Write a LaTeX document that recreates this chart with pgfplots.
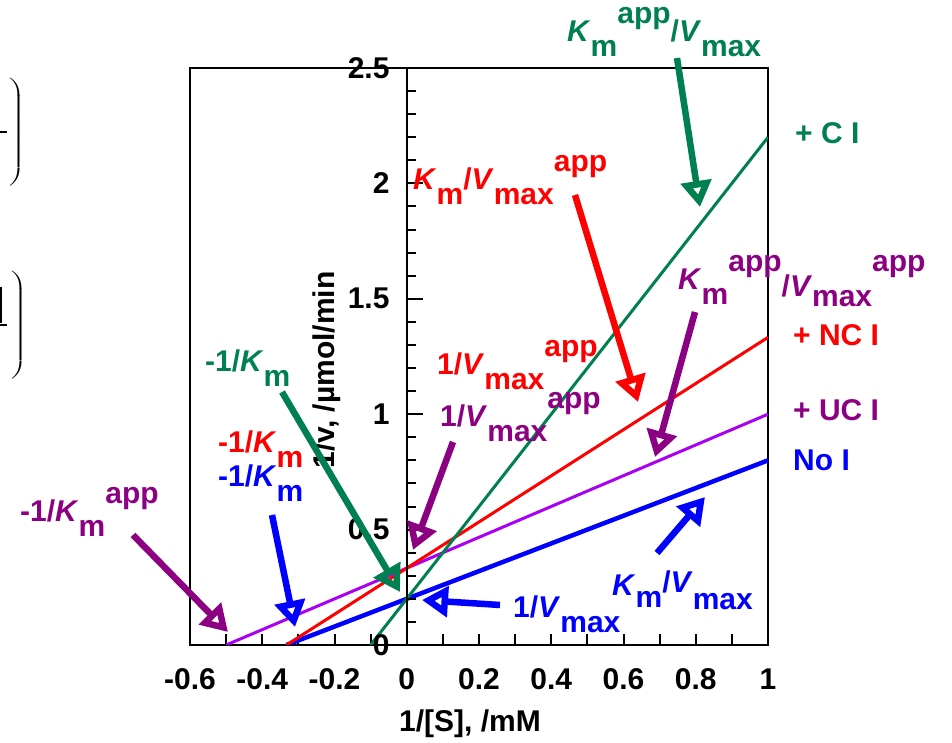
\documentclass[border=0pt]{standalone}
\usepackage{fontspec}
\setmainfont{Liberation Sans}
\usepackage{pgfplots}
\pgfplotsset{compat=1.18}
\usetikzlibrary{arrows.meta}

\definecolor{cgreen}{RGB}{0,128,80}
\definecolor{cpurple}{RGB}{140,0,130}
\definecolor{cviolet}{RGB}{170,0,240}
\definecolor{cblue}{RGB}{0,0,255}
\definecolor{cred}{RGB}{255,0,0}

\newcommand{\bigfont}{\fontsize{30}{36}\selectfont\bfseries}
\newcommand{\lo}[1]{\raisebox{-15pt}{#1}}
\newcommand{\hi}[1]{\raisebox{18pt}{#1}}
\newcommand{\K}{\textit{K}}
\newcommand{\V}{\textit{V}}

\tikzset{
  ann/.style={line width=6.5pt, -{Triangle[open,length=26pt,width=30pt]}},
  lab/.style={anchor=base west, inner sep=0pt, font=\bigfont},
}

\begin{document}
\begin{tikzpicture}
% main frame with the 1/[S] axis
\begin{axis}[
  at={(190pt,98pt)}, anchor=south west,
  scale only axis, width=578pt, height=577pt,
  xmin=-0.6, xmax=1, ymin=0, ymax=2.5,
  axis line style={line width=2pt},
  xtick={-0.6,-0.4,-0.2,0,0.2,0.4,0.6,0.8,1},
  xticklabels={-0.6,-0.4,-0.2,0,0.2,0.4,0.6,0.8,1},
  minor x tick num=1,
  xtick pos=bottom, ytick=\empty,
  tick align=inside, major tick length=11pt, minor tick length=11pt,
  tick style={line width=2pt, black},
  xticklabel style={font=\bigfont, yshift=-20pt},
]
% no inhibitor
\addplot[cblue, line width=4.5pt] coordinates {(-0.333,0) (0,0.2) (0.5,0.5) (1,0.8)};
% uncompetitive
\addplot[cviolet, line width=3pt] coordinates {(-0.5,0) (0,0.333) (0.5,0.667) (1,1.0)};
% noncompetitive
\addplot[cred, line width=3pt] coordinates {(-0.333,0) (0,0.333) (0.5,0.833) (1,1.333)};
% competitive
\addplot[cgreen, line width=3pt] coordinates {(-0.1,0) (0,0.2) (0.5,1.2) (1,2.2)};
\end{axis}

% vertical 1/v axis standing at 1/[S] = 0
\begin{axis}[
  at={(407pt,98pt)}, anchor=south west,
  scale only axis, width=361pt, height=577pt,
  xmin=0, xmax=1, ymin=0, ymax=2.5,
  hide x axis, axis y line*=left,
  axis line style={line width=2pt},
  ytick={0,0.5,1,1.5,2,2.5}, yticklabels={0,0.5,1,1.5,2,2.5},
  minor y tick num=4,
  tick align=inside, major tick length=16pt, minor tick length=9pt,
  tick style={line width=2pt, black},
  yticklabel style={font=\bigfont, xshift=-14pt},
]
\end{axis}

% axis titles
\node[font=\bigfont, rotate=90] at (327pt,373pt) {1/v, /µmol/min};
\node[font=\bigfont] at (470pt,19pt) {1/[S], /mM};

% series names
\node[lab, anchor=west, text=cgreen] at (795pt,610pt) {+ C I};
\node[lab, anchor=west, text=cred] at (793pt,408pt) {+ NC I};
\node[lab, anchor=west, text=cpurple] at (793pt,333pt) {+ UC I};
\node[lab, anchor=west, text=cblue] at (793pt,283pt) {No I};

% annotations
\node[lab, text=cgreen] at (567pt,701pt) {\K\lo{m}\hi{app}/\V\lo{max}};
\draw[ann, cgreen] (677pt,685pt) -- (700pt,536pt);

\node[lab, text=cred] at (413pt,553pt) {\K\lo{m}/\V\lo{max}\hi{app}};
\draw[ann, cred] (575pt,548pt) -- (638pt,341pt);

\node[lab, text=cpurple] at (678pt,453pt) {\K\lo{m}\hi{app}\raisebox{-7pt}{/\V}\raisebox{-17pt}{max}\hi{app}};
\draw[ann, cpurple] (695pt,431pt) -- (655pt,286pt);

\node[lab, text=cred] at (437pt,368pt) {1/\V\lo{max}\hi{app}};
\node[lab, text=cpurple] at (440pt,316pt) {1/\V\lo{max}\hi{app}};
\draw[ann, cpurple] (453pt,301pt) -- (413pt,193pt);

\node[lab, text=cgreen] at (205pt,371pt) {-1/\K\lo{m}};
\draw[ann, cgreen] (282pt,351pt) -- (400pt,151pt);

\node[lab, text=cred] at (218pt,290pt) {-1/\K\lo{m}};
\node[lab, text=cblue] at (218pt,256pt) {-1/\K\lo{m}};
\draw[ann, cblue] (272pt,228pt) -- (295pt,116pt);

\node[lab, text=cpurple] at (20pt,221pt) {-1/\K\lo{m}\hi{app}};
\draw[ann, cpurple] (133pt,208pt) -- (228pt,111pt);

\node[lab, text=cblue] at (513pt,125pt) {1/\V\lo{max}};
\draw[ann, cblue] (500pt,138pt) -- (422pt,143pt);

\node[lab, text=cblue] at (612pt,147pt) {\K\raisebox{-12pt}{m}\raisebox{3pt}{/\V}\raisebox{-14pt}{max}};
\draw[ann, cblue] (657pt,190pt) -- (705pt,246pt);

% edge of the neighbouring equation
\node[inner sep=0pt] at (16pt,610pt) {\scalebox{1.8}[1]{$\left.\vrule height 54pt depth 54pt width 0pt\right)$}};
\node[inner sep=0pt] at (18pt,417pt) {\scalebox{1.8}[1]{$\left.\vrule height 54pt depth 54pt width 0pt\right)$}};
\draw[line width=1.5pt] (0pt,611pt) -- (7pt,611pt);
\draw[line width=1.5pt] (0pt,418pt) -- (7pt,418pt);
\draw[line width=1.5pt] (1pt,420pt) -- (1pt,456pt);

\pgfresetboundingbox
\useasboundingbox (0pt,0pt) rectangle (952pt,743pt);
\end{tikzpicture}
\end{document}
